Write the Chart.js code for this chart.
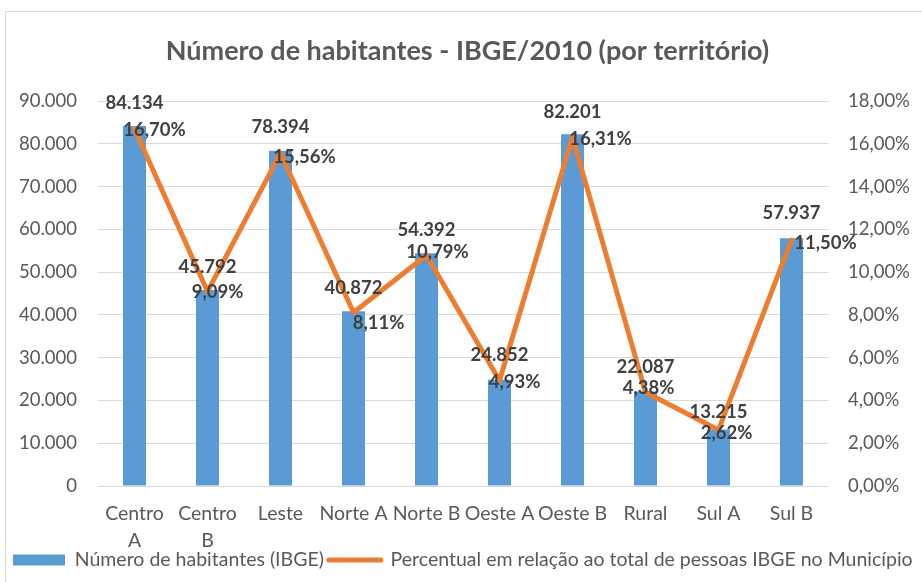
<!DOCTYPE html>
<html lang="pt-BR">
<head>
<meta charset="utf-8">
<title>Número de habitantes - IBGE/2010 (por território)</title>
<script src="https://cdn.jsdelivr.net/npm/chart.js@4.4.1/dist/chart.umd.min.js"></script>
<style>
  html, body { margin: 0; padding: 0; background: #fff; }
  #wrap { position: relative; width: 922px; height: 582px; overflow: hidden; }
  #frame { position: absolute; left: 5px; top: 11px; width: 940px; height: 600px; border: 1.5px solid #d9d9d9; box-sizing: border-box; }
  #chart { position: absolute; left: 0; top: 0; }
</style>
</head>
<body>
<div id="wrap">
  <div id="frame"></div>
  <canvas id="chart" width="922" height="582"></canvas>
</div>
<script>
// dados do gráfico
const titleText = 'Número de habitantes - IBGE/2010 (por território)';
const categories = [['Centro', 'A'], ['Centro', 'B'], 'Leste', 'Norte A', 'Norte B', 'Oeste A', 'Oeste B', 'Rural', 'Sul A', 'Sul B'];
const habitantes = [84134, 45792, 78394, 40872, 54392, 24852, 82201, 22087, 13215, 57937];
const percentual = [16.70, 9.09, 15.56, 8.11, 10.79, 4.93, 16.31, 4.38, 2.62, 11.50];
const seriesNames = ['Número de habitantes (IBGE)', 'Percentual em relação ao total de pessoas IBGE no Município'];
const leftTicks = [0, 10000, 20000, 30000, 40000, 50000, 60000, 70000, 80000, 90000];
const rightTicks = [0, 2, 4, 6, 8, 10, 12, 14, 16, 18];

// deslocamento dos rótulos (posicionados à mão no original)
const barLabelDy = [-23, -23, -24, -23, -23, -25, -22, -24, -17, -25];
const pctLabelDx = [20, 10, 24, 25, 11, 15, 28, 3, 8, 34];
const pctLabelDy = [1, 0, 4, 10, -3, 1, 2, -4, 3, 3];

const blue = '#5B9BD5';
const orange = '#ED7D31';
const grey = '#595959';
const fontFamily = 'Lato';

function fmtThousands(v) {
    return String(v).replace(/\B(?=(\d{3})+(?!\d))/g, '.');
}
function fmtPct(v) {
    return v.toFixed(2).replace('.', ',') + '%';
}

const dataLabels = {
    id: 'dataLabels',
    afterDatasetsDraw(chart) {
        const ctx = chart.ctx;
        ctx.save();
        ctx.font = 'bold 18.5px ' + fontFamily;
        ctx.fillStyle = '#404040';
        ctx.textAlign = 'center';
        ctx.textBaseline = 'middle';
        chart.getDatasetMeta(1).data.forEach((bar, i) => {
            ctx.fillText(fmtThousands(habitantes[i]), bar.x, bar.y + barLabelDy[i]);
        });
        chart.getDatasetMeta(0).data.forEach((pt, i) => {
            ctx.fillText(fmtPct(percentual[i]), pt.x + pctLabelDx[i], pt.y + pctLabelDy[i]);
        });
        ctx.restore();
    }
};

const ctx = document.getElementById('chart').getContext('2d');
const chart = new Chart(ctx, {
    type: 'bar',
    data: {
        labels: categories,
        datasets: [{
            type: 'line',
            label: seriesNames[1],
            data: percentual,
            yAxisID: 'y1',
            borderColor: orange,
            backgroundColor: orange,
            borderWidth: 5,
            borderCapStyle: 'round',
            borderJoinStyle: 'round',
            pointRadius: 0,
            tension: 0,
            order: 0
        }, {
            type: 'bar',
            label: seriesNames[0],
            data: habitantes,
            yAxisID: 'y',
            backgroundColor: blue,
            barPercentage: 0.315,
            categoryPercentage: 1,
            order: 1
        }]
    },
    options: {
        responsive: false,
        animation: false,
        layout: { padding: { left: 13, right: 0, top: 0, bottom: 2.25 } },
        plugins: {
            title: {
                display: true,
                text: titleText,
                color: grey,
                font: { family: fontFamily, size: 27, weight: 'bold', lineHeight: 1.2 },
                padding: { top: 34.8, bottom: 33.8 }
            },
            legend: {
                position: 'bottom',
                align: 'start',
                labels: {
                    usePointStyle: true,
                    pointStyleWidth: 52,
                    boxHeight: 11,
                    padding: 0,
                    color: grey,
                    font: { family: fontFamily, size: 19.5 },
                    generateLabels: function() {
                        return [
                            { text: seriesNames[0] + ' ', fillStyle: blue, strokeStyle: blue, lineWidth: 0, pointStyle: 'rect', fontColor: grey, datasetIndex: 1 },
                            { text: seriesNames[1], fillStyle: orange, strokeStyle: orange, lineWidth: 5, lineCap: 'round', pointStyle: 'line', fontColor: grey, datasetIndex: 0 }
                        ];
                    }
                }
            },
            tooltip: { enabled: false }
        },
        scales: {
            x: {
                grid: { display: false },
                border: { display: false },
                ticks: {
                    color: grey,
                    font: { family: fontFamily, size: 19.5, lineHeight: 1.385 },
                    padding: 6.5,
                    maxRotation: 0,
                    autoSkip: false
                },
                afterFit: function(scale) { scale.height = 64.25; }
            },
            y: {
                position: 'left',
                min: 0,
                max: 90000,
                grid: { color: '#d9d9d9', lineWidth: 1, drawTicks: false },
                border: { display: false },
                ticks: {
                    color: grey,
                    font: { family: fontFamily, size: 18.5 },
                    padding: 21,
                    callback: function(value) { return fmtThousands(value); }
                },
                afterBuildTicks: function(scale) { scale.ticks = leftTicks.map(v => ({ value: v })); },
                afterFit: function(scale) { scale.width = 85; }
            },
            y1: {
                position: 'right',
                min: 0,
                max: 18,
                grid: { display: false, drawTicks: false },
                border: { display: false },
                ticks: {
                    color: grey,
                    font: { family: fontFamily, size: 18.5 },
                    padding: 20,
                    callback: function(value) { return fmtPct(value); }
                },
                afterBuildTicks: function(scale) { scale.ticks = rightTicks.map(v => ({ value: v })); },
                afterFit: function(scale) { scale.width = 94; }
            }
        }
    },
    plugins: [dataLabels]
});
</script>
</body>
</html>
